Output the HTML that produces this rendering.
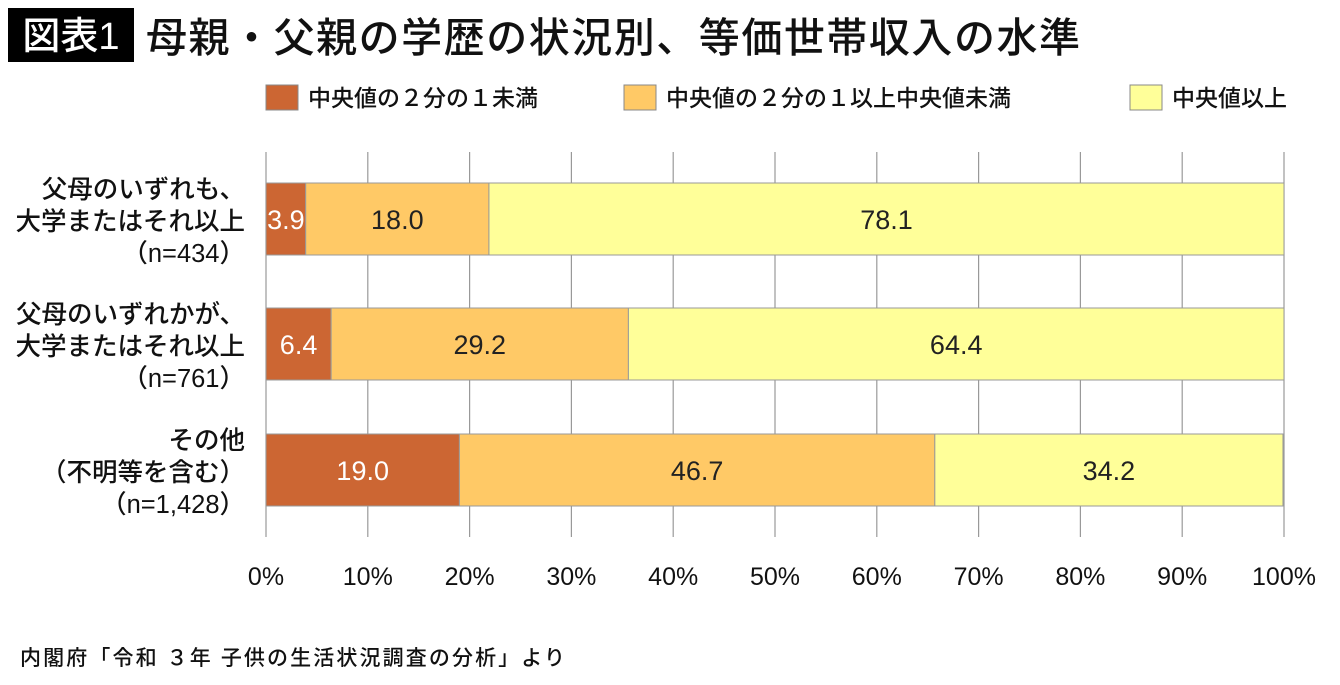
<!DOCTYPE html>
<html><head><meta charset="utf-8"><style>
body{margin:0;width:1340px;height:680px;background:#fff;overflow:hidden;font-family:"Liberation Sans","Noto Sans CJK JP",sans-serif;}
</style></head><body>
<svg width="1340" height="680" xmlns="http://www.w3.org/2000/svg" style="font-family:'Liberation Sans','Noto Sans CJK JP',sans-serif">
<rect x="8" y="8" width="126" height="54" fill="#000"/>
<text x="71" y="49" font-size="38" fill="#fff" text-anchor="middle" font-weight="500">図表1</text>
<text x="146" y="52" font-size="41" fill="#111" font-weight="500" textLength="934">母親・父親の学歴の状況別、等価世帯収入の水準</text>
<g id="legend"></g>
<g id="grid"></g>
<g id="bars"></g>
<g id="xaxis"></g>
<text x="20" y="665" font-size="21" fill="#111" font-weight="500" textLength="545">内閣府「令和 ３年 子供の生活状況調査の分析」より</text>
</svg>
<script>
const categories=[["父母のいずれも、","大学またはそれ以上","（n=434）"],["父母のいずれかが、","大学またはそれ以上","（n=761）"],["その他","（不明等を含む）","（n=1,428）"]];
const seriesNames=["中央値の２分の１未満","中央値の２分の１以上中央値未満","中央値以上"];
const seriesLow=[3.9,6.4,19.0];
const seriesMid=[18.0,29.2,46.7];
const seriesHigh=[78.1,64.4,34.2];
const tickLabels=["0%","10%","20%","30%","40%","50%","60%","70%","80%","90%","100%"];
const colors=["#cc6633","#ffc966","#ffff99"];
const NS="http://www.w3.org/2000/svg";
const x0=266,x1=1284,rowY=[183,308,434],barH=72;
const xs=v=>x0+(x1-x0)*v/100;
function mk(tag,attrs,parent){const e=document.createElementNS(NS,tag);for(const k in attrs)e.setAttribute(k,attrs[k]);parent.appendChild(e);return e;}
const grid=document.getElementById('grid'),bars=document.getElementById('bars'),xa=document.getElementById('xaxis'),lg=document.getElementById('legend');
tickLabels.forEach((t,i)=>{const x=xs(i*10);
const l=mk('line',{x1:x,x2:x,y1:152,y2:537,stroke:'#999','stroke-width':1.2},grid);

const tx=mk('text',{x:x,y:585,'font-size':25,'text-anchor':'middle',fill:'#111'},xa);tx.textContent=t;
});
const lx=[266,624,1130];
seriesNames.forEach((n,i)=>{const r=mk('rect',{x:lx[i],y:85,width:32,height:25,fill:colors[i],stroke:'#888','stroke-width':1},lg);

const t=mk('text',{x:lx[i]+42,y:106,'font-size':23,'font-weight':500,fill:'#111'},lg);t.textContent=n;
});
categories.forEach((c,r)=>{const y=rowY[r];
c.forEach((line,j)=>{const t=mk('text',{x:245,y:y+15+j*32,'font-size':25.5,'font-weight':500,'text-anchor':'end',fill:'#111'},bars);t.textContent=line;
});
const vals=[seriesLow[r],seriesMid[r],seriesHigh[r]];let acc=0;
vals.forEach((v,s)=>{const xa0=xs(acc),xb=xs(acc+v);acc+=v;
const rc=mk('rect',{x:xa0,y:y,width:xb-xa0,height:barH,fill:colors[s],stroke:'#999','stroke-width':1},bars);

const t=mk('text',{x:(xa0+xb)/2,y:y+barH/2+10,'font-size':27,'text-anchor':'middle',fill:s==0?'#fff':'#222'},bars);t.textContent=v.toFixed(1);
});});
</script>
</body></html>
